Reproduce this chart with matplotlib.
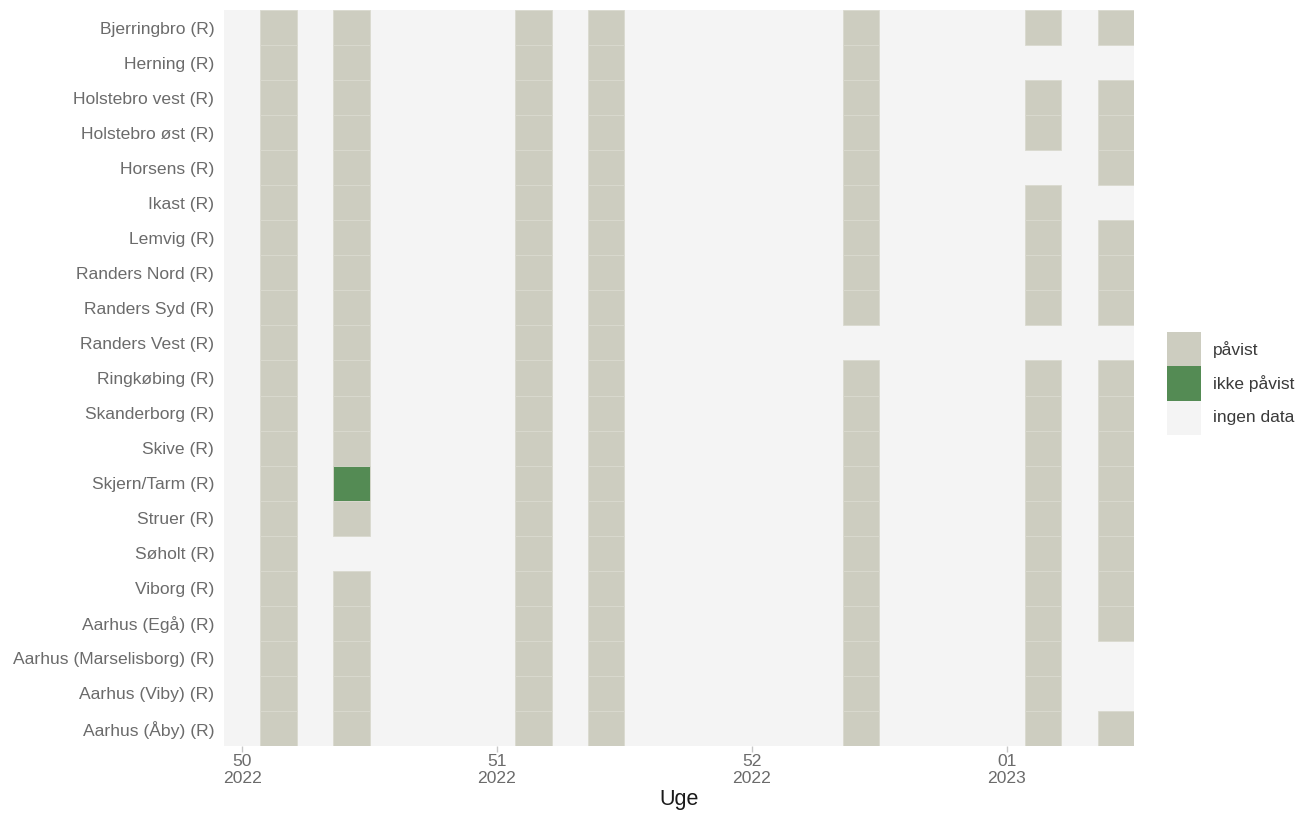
import datetime as dt
import matplotlib
matplotlib.use("Agg")
import matplotlib.pyplot as plt
import matplotlib.dates as mdates
from matplotlib.patches import Rectangle

plt.rcParams['font.family'] = ['Liberation Sans', 'DejaVu Sans']

# Stationer, oppefra og ned
stationer = [
    "Bjerringbro (R)", "Herning (R)", "Holstebro vest (R)", "Holstebro øst (R)",
    "Horsens (R)", "Ikast (R)", "Lemvig (R)", "Randers Nord (R)", "Randers Syd (R)",
    "Randers Vest (R)", "Ringkøbing (R)", "Skanderborg (R)", "Skive (R)",
    "Skjern/Tarm (R)", "Struer (R)", "Søholt (R)", "Viborg (R)", "Aarhus (Egå) (R)",
    "Aarhus (Marselisborg) (R)", "Aarhus (Viby) (R)", "Aarhus (Åby) (R)",
]

# Prøvedatoer
proevedatoer = ["2022-12-13", "2022-12-15", "2022-12-20", "2022-12-22",
                "2022-12-29", "2023-01-03", "2023-01-05"]

# Status pr. station og prøvedato: P = påvist, I = ikke påvist, - = ingen data
status = [
    "PPPPPPP",  # Bjerringbro
    "PPPPP--",  # Herning
    "PPPPPPP",  # Holstebro vest
    "PPPPPPP",  # Holstebro øst
    "PPPPP-P",  # Horsens
    "PPPPPP-",  # Ikast
    "PPPPPPP",  # Lemvig
    "PPPPPPP",  # Randers Nord
    "PPPPPPP",  # Randers Syd
    "PPPP---",  # Randers Vest
    "PPPPPPP",  # Ringkøbing
    "PPPPPPP",  # Skanderborg
    "PPPPPPP",  # Skive
    "PIPPPPP",  # Skjern/Tarm
    "PPPPPPP",  # Struer
    "P-PPPPP",  # Søholt
    "PPPPPPP",  # Viborg
    "PPPPPPP",  # Aarhus (Egå)
    "PPPPPP-",  # Aarhus (Marselisborg)
    "PPPPPP-",  # Aarhus (Viby)
    "PPPPPPP",  # Aarhus (Åby)
]

periode_start = "2022-12-12"
periode_slut = "2023-01-05"
uge_ticks = ["2022-12-12", "2022-12-19", "2022-12-26", "2023-01-02"]

farver = {"P": "#cdcdc0", "I": "#548b54", "-": "#f4f4f4"}
etiketter = {"P": "påvist", "I": "ikke påvist", "-": "ingen data"}

W, H = 1300, 818
fig = plt.figure(figsize=(W / 100, H / 100), dpi=100)
ax = fig.add_axes([224 / W, 1 - 746 / H, (1134 - 224) / W, (746 - 10) / H])

start = mdates.date2num(dt.date.fromisoformat(periode_start))
slut = mdates.date2num(dt.date.fromisoformat(periode_slut))

# baggrund: ingen data for hele perioden
ax.add_patch(Rectangle((start - 0.5, -0.5), slut - start + 1, len(stationer),
                       facecolor=farver["-"], edgecolor="none", zorder=0))

for i, kode in enumerate(status):
    for j, d in enumerate(proevedatoer):
        c = kode[j]
        if c == "-":
            continue
        x = mdates.date2num(dt.date.fromisoformat(d))
        ax.add_patch(Rectangle((x - 0.5, i - 0.5), 1, 1, facecolor=farver[c],
                               edgecolor="#dad9cf", linewidth=0.6, zorder=2))

ax.set_xlim(start - 0.5, slut + 0.5)
ax.set_ylim(len(stationer) - 0.5, -0.5)

ax.set_yticks(range(len(stationer)))
ax.set_yticklabels(stationer)
tick_x = [mdates.date2num(dt.date.fromisoformat(d)) for d in uge_ticks]
ax.set_xticks(tick_x)
ax.set_xticklabels([dt.date.fromisoformat(d).strftime("%V\n%G") for d in uge_ticks],
                   linespacing=1.15)

ax.tick_params(axis="y", length=0, pad=7, labelsize=12.6, labelcolor="#6b6b6b")
ax.tick_params(axis="x", length=4, width=1, color="#c8c8c8", pad=2,
               labelsize=12.6, labelcolor="#6b6b6b")
for s in ax.spines.values():
    s.set_visible(False)
ax.set_facecolor("white")
ax.set_xlabel("Uge", fontsize=15.5, color="#1a1a1a", labelpad=2)

# legend
lx, ly, ks = 1167, 332, 34.3
for k, kode in enumerate(["P", "I", "-"]):
    y0 = ly + k * ks
    fig.patches.append(Rectangle((lx / W, 1 - (y0 + ks) / H), ks / W, ks / H,
                                 facecolor=farver[kode], edgecolor="none",
                                 transform=fig.transFigure, figure=fig))
    fig.text(1213 / W, 1 - (y0 + ks / 2) / H, etiketter[kode], fontsize=12.5,
             color="#3a3a3a", va="center", ha="left")

fig.savefig("out.png", dpi=100)
